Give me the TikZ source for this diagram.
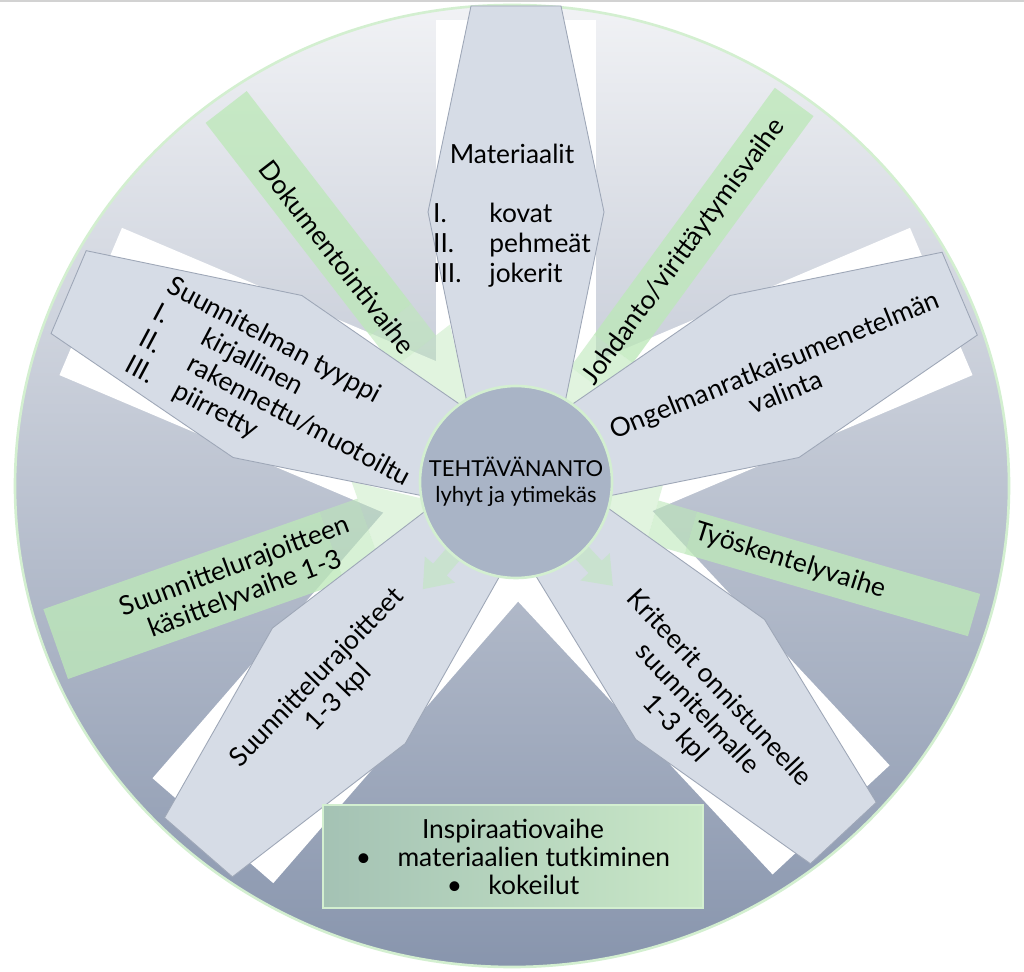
\documentclass[tikz,border=0pt]{standalone}
\usepackage{fontspec}
\setmainfont{Lato}
\usepackage{array}
\definecolor{bgtop}{HTML}{F1F2F5}
\definecolor{bgmid}{HTML}{C9CFD9}
\definecolor{bgbot}{HTML}{8895AD}
\definecolor{hexfill}{HTML}{D6DCE6}
\definecolor{hexline}{HTML}{9EA7B7}
\definecolor{phase}{HTML}{BDE8B9}
\definecolor{rim}{HTML}{D3EFD0}
\definecolor{hub}{HTML}{A9B4C6}
\definecolor{inspL}{HTML}{A4C2B4}
\definecolor{inspR}{HTML}{C9E8C7}
\begin{document}
\begin{tikzpicture}[
  x=0.02cm, y=-0.02cm,
  every node/.style={font=\fontsize{15}{17}\selectfont, text=black, inner sep=0pt},
  hexa/.style={fill=hexfill, draw=hexline, line width=0.5pt},
  phaselabel/.style={align=center},
]
\useasboundingbox (0,0) rectangle (1024,972);
\draw[gray!35, line width=0.8pt] (0,1) -- (1024,1);

% big disc with soft gradient
\shade[top color=bgtop, middle color=bgmid, bottom color=bgbot] (512,486) ellipse [x radius=497, y radius=481];
\draw[rim, line width=1.5pt] (512,486) ellipse [x radius=497, y radius=481];

% white bars behind the spokes
\foreach \a in {90,23,-47,-131,157} {
  \begin{scope}[shift={(516,482)}, rotate=\a]
    \fill[white] (0,-80) rectangle (462,80);
  \end{scope}
}

% green phase arrows: faint head near the hub, stronger shaft outside
\foreach \a/\rn/\rf/\hw in {127.7/165/474/26, 53.8/125/471/24, -16.2/142/477/22, 199.4/155/488/37} {
  \begin{scope}[shift={(516,482)}, rotate=\a]
    \fill[phase, opacity=0.45] (70,0) -- (\rn,{-\hw-18}) -- (\rn,{\hw+18}) -- cycle;
    \fill[phase, opacity=0.6] (\rn,-\hw) rectangle ({\rn+40},\hw);
    \fill[phase, opacity=0.78] ({\rn+40},-\hw) rectangle (\rf,\hw);
  \end{scope}
}

% spokes
\foreach \a/\rf in {90/476, 23/482, -47/480, -131/484, 157/486} {
  \begin{scope}[shift={(516,482)}, rotate=\a]
    \draw[hexa] (60,-45) -- (270,-88) -- (\rf,-45) -- (\rf,45) -- (270,88) -- (60,45) -- cycle;
  \end{scope}
}

% small arrow tips leaving the hub
\foreach \a in {-47,-131} {
  \begin{scope}[shift={(516,482)}, rotate=\a]
    \fill[phase, opacity=0.5] (96,-9) -- (116,-9) -- (116,-20) -- (142,0) -- (116,20) -- (116,9) -- (96,9) -- cycle;
  \end{scope}
}

% inspiration box
\shade[left color=inspL, right color=inspR] (323,805) rectangle (703,908);
\draw[rim, line width=0.8pt] (323,805) rectangle (703,908);

% hub
\filldraw[fill=hub, draw=rim, line width=1.5pt] (516,482) circle [radius=96];

% spoke texts
\node (mat) at (512,217) {\begin{tabular}{@{}p{32pt}@{}l@{}}
  \multicolumn{2}{@{}c@{}}{Materiaalit}\\[17pt]
  I. & kovat\\
  II. & pehmeät\\
  III. & jokerit
\end{tabular}};
\node[align=center, rotate=22] (ong) at (780,378) {Ongelmanratkaisumenetelmän\\valinta};
\node[align=center, rotate=-47] (kri) at (697,709) {Kriteerit onnistuneelle\\suunnitelmalle\\1-3 kpl};
\node[align=center, rotate=46] (raj) at (328,688) {Suunnittelurajoitteet\\1-3 kpl};
\node[rotate=-28] (typ) at (281,397) {\begin{tabular}{@{}p{31pt}@{}l@{}}
  \multicolumn{2}{@{}l@{}}{Suunnitelman tyyppi}\\
  I. & kirjallinen\\
  II. & rakennettu/muotoiltu\\
  III. & piirretty
\end{tabular}};

% phase texts
\node[phaselabel, rotate=-52.3] (dok) at (337,257) {Dokumentointivaihe};
\node[phaselabel, rotate=53.8] (joh) at (684,252) {Johdanto/virittäytymisvaihe};
\node[phaselabel, rotate=-17.5] (tyo) at (790,561) {Työskentelyvaihe};
\node[phaselabel, rotate=20.5] (kas) at (240,581) {Suunnittelurajoitteen\\käsittelyvaihe 1-3};
\node[align=center, font=\fontsize{15}{16}\selectfont] (insp) at (513,857) {Inspiraatiovaihe\\
  \textbullet\hspace{15pt}materiaalien tutkiminen\\
  \textbullet\hspace{15pt}kokeilut};

% hub text
\node[align=center, font=\fontsize{12.5}{15}\selectfont] (task) at (516,482) {TEHTÄVÄNANTO\\lyhyt ja ytimekäs};
\end{tikzpicture}
\end{document}
